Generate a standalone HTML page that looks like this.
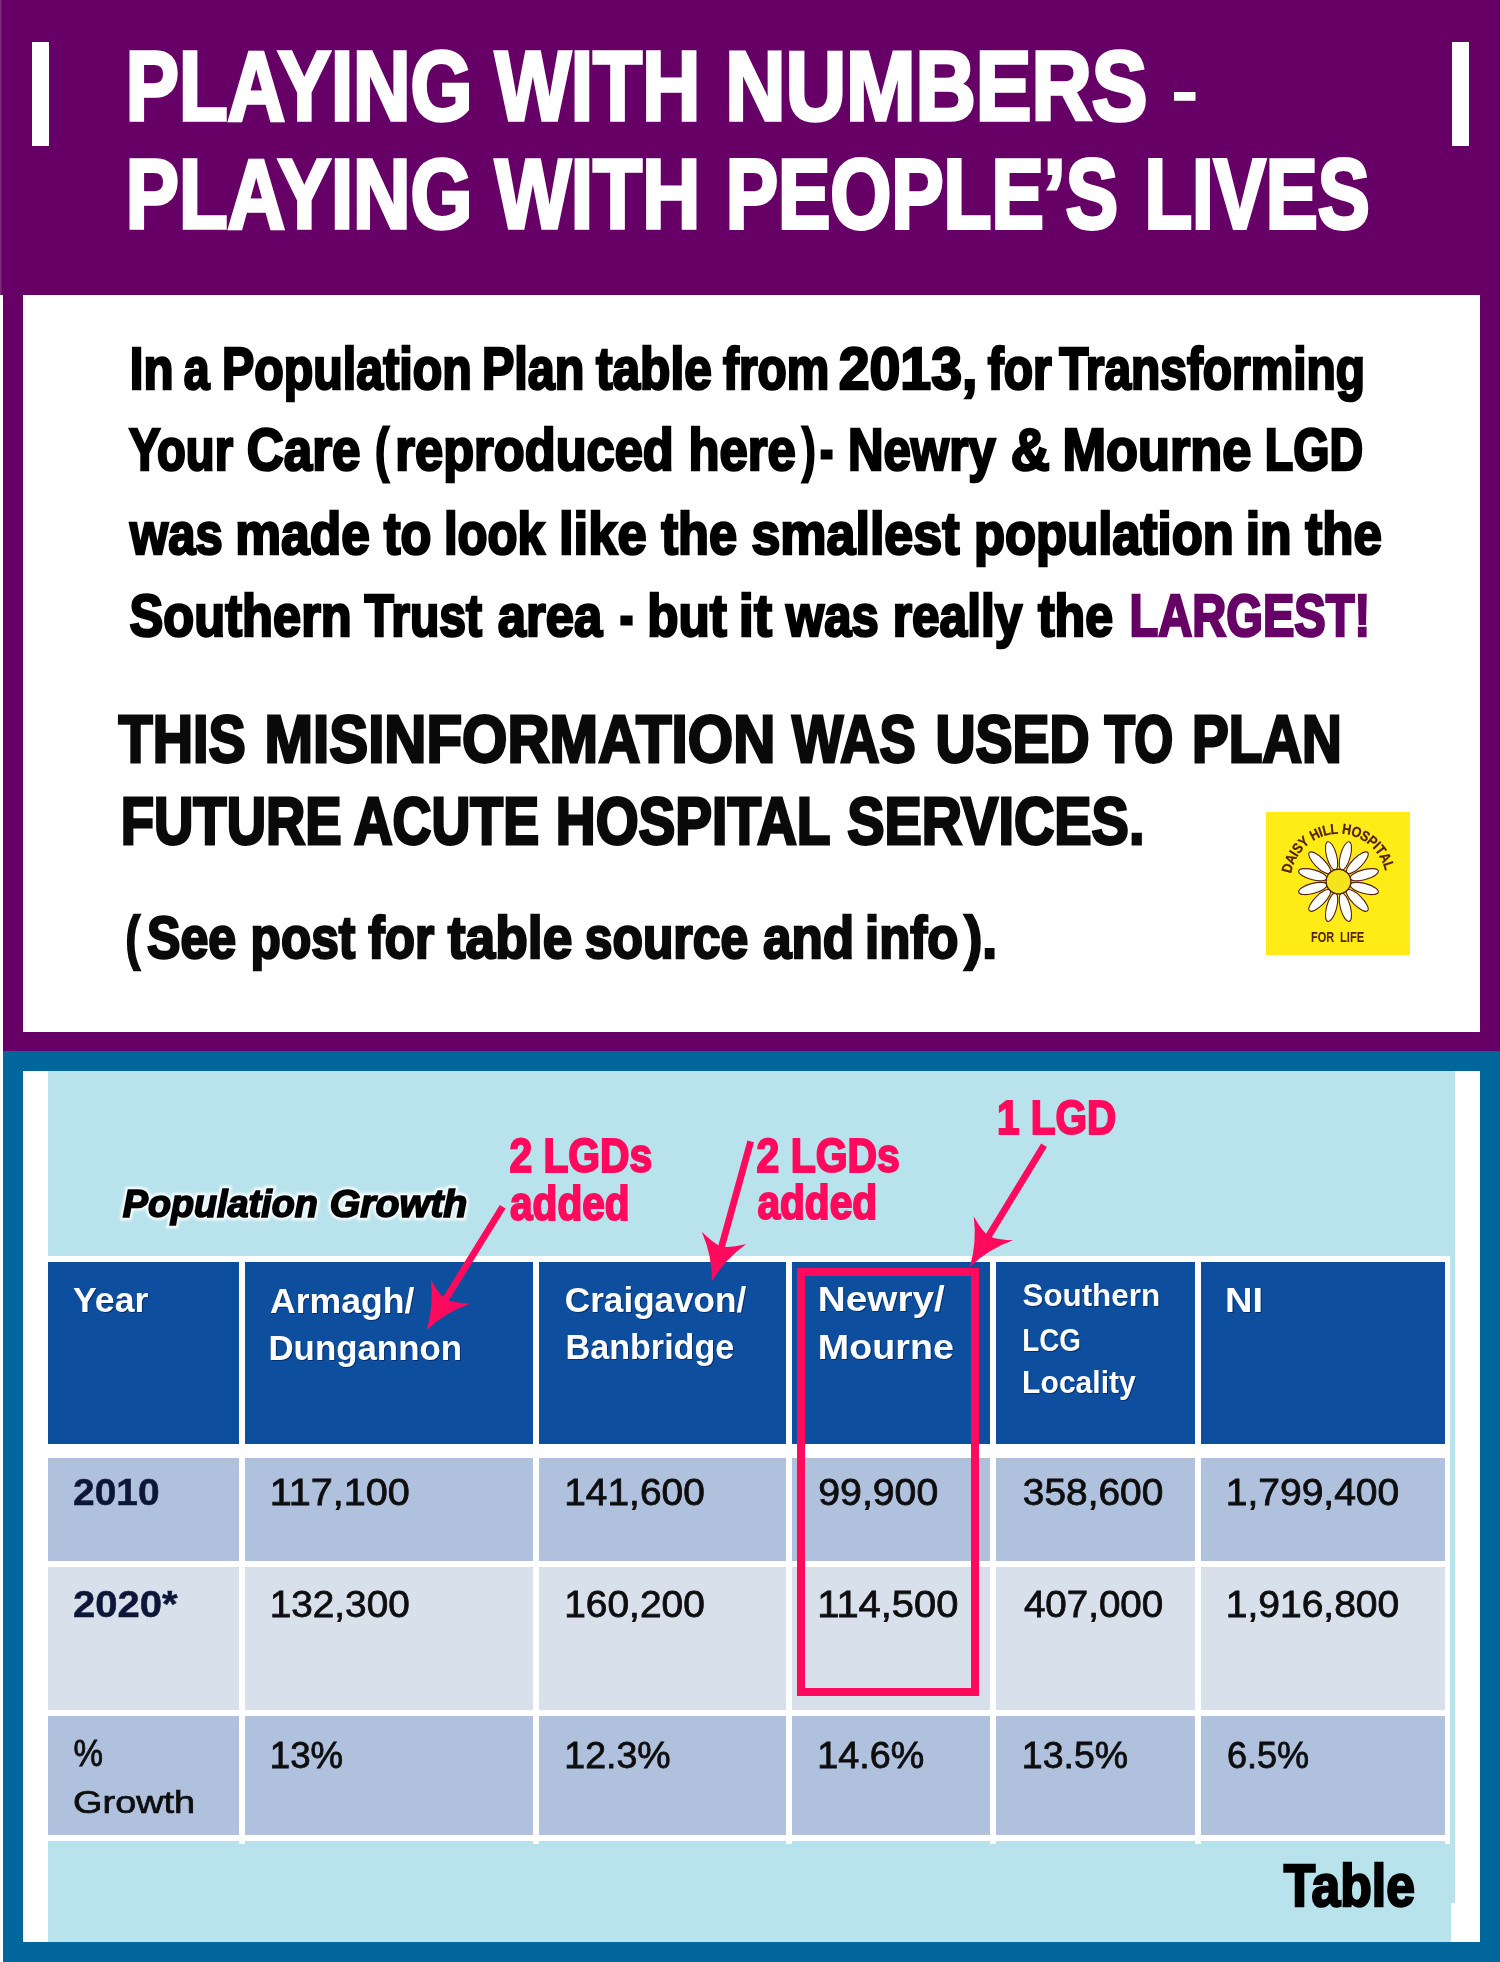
<!DOCTYPE html>
<html><head><meta charset="utf-8"><title>Playing with numbers</title>
<style>
html,body{margin:0;padding:0;background:#fff}
body{width:1500px;height:1962px;overflow:hidden;font-family:"Liberation Sans",sans-serif}
svg{display:block;font-family:"Liberation Sans",sans-serif}
text{white-space:pre}
</style></head><body>
<svg width="1500" height="1962" viewBox="0 0 1500 1962">
<defs>
<filter id="soft" x="-5%" y="-5%" width="110%" height="110%"><feGaussianBlur stdDeviation="0.7"/></filter>
<filter id="soft2" x="-5%" y="-5%" width="110%" height="110%"><feGaussianBlur stdDeviation="0.5"/></filter>
</defs>
<rect width="1500" height="1962" fill="#fff"/>
<!-- purple header and frame -->
<rect x="0" y="0" width="1500" height="295" fill="#660066"/>
<rect x="0" y="0" width="1.5" height="295" fill="#7d2a7d"/>
<rect x="3" y="295" width="1497" height="756" fill="#660066"/>
<rect x="23" y="295" width="1457" height="737" fill="#fff"/>
<rect x="32" y="42" width="17" height="104" fill="#fff"/>
<rect x="1452" y="42" width="17" height="104" fill="#fff"/>
<rect x="1174" y="92" width="21.5" height="8.8" fill="#fff"/>
<!-- blue frame -->
<rect x="3" y="1051" width="1497" height="911" fill="#00669B"/>
<rect x="23" y="1071" width="1457" height="871" fill="#fff"/>
<rect x="48" y="1071" width="1407" height="832" fill="#B9E3EC"/>
<rect x="48" y="1900" width="1403" height="42" fill="#B9E3EC"/>
<!-- table -->
<g filter="url(#soft)">
<rect x="48" y="1256" width="1402" height="585" fill="#fff"/>
<path d="M239 1835h6v9h-6zM533 1835h6v9h-6zM786 1835h6v9h-6zM990 1835h6v9h-6zM1195 1835h6v9h-6zM1445 1835h5v9h-5z" fill="#fff"/>
<rect x="48" y="1262" width="191" height="182" fill="#0F4F9E"/>
<rect x="245" y="1262" width="288" height="182" fill="#0F4F9E"/>
<rect x="539" y="1262" width="247" height="182" fill="#0F4F9E"/>
<rect x="792" y="1262" width="198" height="182" fill="#0F4F9E"/>
<rect x="996" y="1262" width="199" height="182" fill="#0F4F9E"/>
<rect x="1201" y="1262" width="244" height="182" fill="#0F4F9E"/>
<rect x="48" y="1458" width="191" height="103" fill="#B0C1DD"/>
<rect x="245" y="1458" width="288" height="103" fill="#B0C1DD"/>
<rect x="539" y="1458" width="247" height="103" fill="#B0C1DD"/>
<rect x="792" y="1458" width="198" height="103" fill="#B0C1DD"/>
<rect x="996" y="1458" width="199" height="103" fill="#B0C1DD"/>
<rect x="1201" y="1458" width="244" height="103" fill="#B0C1DD"/>
<rect x="48" y="1567" width="191" height="143" fill="#D8E0EC"/>
<rect x="245" y="1567" width="288" height="143" fill="#D8E0EC"/>
<rect x="539" y="1567" width="247" height="143" fill="#D8E0EC"/>
<rect x="792" y="1567" width="198" height="143" fill="#D8E0EC"/>
<rect x="996" y="1567" width="199" height="143" fill="#D8E0EC"/>
<rect x="1201" y="1567" width="244" height="143" fill="#D8E0EC"/>
<rect x="48" y="1716" width="191" height="119" fill="#B0C1DD"/>
<rect x="245" y="1716" width="288" height="119" fill="#B0C1DD"/>
<rect x="539" y="1716" width="247" height="119" fill="#B0C1DD"/>
<rect x="792" y="1716" width="198" height="119" fill="#B0C1DD"/>
<rect x="996" y="1716" width="199" height="119" fill="#B0C1DD"/>
<rect x="1201" y="1716" width="244" height="119" fill="#B0C1DD"/>
<rect x="1450" y="1256" width="5" height="590" fill="#B9E3EC"/>
</g>
<g filter="url(#soft2)">
<g style="filter:blur(1.3px)" opacity="1"><text transform="translate(122.75 1217.15) scale(0.9878 1)" font-size="38.23" fill="#f4fbfd" style="font-weight:bold;font-style:italic;vector-effect:non-scaling-stroke;stroke:#f4fbfd;stroke-width:6.5">Population</text>
<text transform="translate(329.72 1217.15) scale(1.0281 1)" font-size="38.23" fill="#f4fbfd" style="font-weight:bold;font-style:italic;vector-effect:non-scaling-stroke;stroke:#f4fbfd;stroke-width:6.5">Growth</text></g>
<text transform="translate(122.75 1217.15) scale(0.9878 1)" font-size="38.23" fill="#000" style="font-weight:bold;font-style:italic;vector-effect:non-scaling-stroke;stroke:#000;stroke-width:1.70">Population</text>
<text transform="translate(329.72 1217.15) scale(1.0281 1)" font-size="38.23" fill="#000" style="font-weight:bold;font-style:italic;vector-effect:non-scaling-stroke;stroke:#000;stroke-width:1.70">Growth</text>
<g style="filter:drop-shadow(1px 1.5px 0.6px rgba(0,20,70,.55))"><text transform="translate(73.00 1312.00) scale(1.0437 1)" font-size="34.16" fill="#fff" style="font-weight:bold">Year</text>
<text transform="translate(270.00 1312.50) scale(1.0432 1)" font-size="34.16" fill="#fff" style="font-weight:bold">Armagh/</text>
<text transform="translate(268.46 1360.00) scale(1.0201 1)" font-size="34.16" fill="#fff" style="font-weight:bold">Dungannon</text>
<text transform="translate(564.87 1312.00) scale(1.0276 1)" font-size="34.16" fill="#fff" style="font-weight:bold">Craigavon/</text>
<text transform="translate(565.50 1359.20) scale(0.9998 1)" font-size="34.16" fill="#fff" style="font-weight:bold">Banbridge</text>
<text transform="translate(817.73 1310.70) scale(1.1342 1)" font-size="34.16" fill="#fff" style="font-weight:bold">Newry/</text>
<text transform="translate(817.79 1358.70) scale(1.1040 1)" font-size="34.16" fill="#fff" style="font-weight:bold">Mourne</text>
<text transform="translate(1022.50 1305.90) scale(0.9800 1)" font-size="31.98" fill="#fff" style="font-weight:bold">Southern</text>
<text transform="translate(1022.26 1351.20) scale(0.8693 1)" font-size="31.98" fill="#fff" style="font-weight:bold">LCG</text>
<text transform="translate(1022.12 1393.30) scale(0.9410 1)" font-size="31.98" fill="#fff" style="font-weight:bold">Locality</text>
<text transform="translate(1225.07 1312.00) scale(1.1156 1)" font-size="34.16" fill="#fff" style="font-weight:bold">NI</text></g>
<text transform="translate(73.08 1504.75) scale(1.0654 1)" font-size="36.48" fill="#0b1838" style="font-weight:bold;vector-effect:non-scaling-stroke;stroke:#0b1838;stroke-width:0.50">2010</text>
<text transform="translate(269.70 1504.60) scale(1.0977 1)" font-size="36.05" fill="#0c0c10" style="vector-effect:non-scaling-stroke;stroke:#0c0c10;stroke-width:0.80">117,100</text>
<text transform="translate(564.24 1504.60) scale(1.0786 1)" font-size="36.05" fill="#0c0c10" style="vector-effect:non-scaling-stroke;stroke:#0c0c10;stroke-width:0.80">141,600</text>
<text transform="translate(818.31 1504.60) scale(1.0881 1)" font-size="36.05" fill="#0c0c10" style="vector-effect:non-scaling-stroke;stroke:#0c0c10;stroke-width:0.80">99,900</text>
<text transform="translate(1022.82 1504.60) scale(1.0780 1)" font-size="36.05" fill="#0c0c10" style="vector-effect:non-scaling-stroke;stroke:#0c0c10;stroke-width:0.80">358,600</text>
<text transform="translate(1225.74 1504.60) scale(1.0823 1)" font-size="36.05" fill="#0c0c10" style="vector-effect:non-scaling-stroke;stroke:#0c0c10;stroke-width:0.80">1,799,400</text>
<text transform="translate(73.05 1616.75) scale(1.0975 1)" font-size="36.48" fill="#0b1838" style="font-weight:bold;vector-effect:non-scaling-stroke;stroke:#0b1838;stroke-width:0.50">2020*</text>
<text transform="translate(269.75 1616.60) scale(1.0746 1)" font-size="36.05" fill="#0c0c10" style="vector-effect:non-scaling-stroke;stroke:#0c0c10;stroke-width:0.80">132,300</text>
<text transform="translate(564.24 1616.60) scale(1.0786 1)" font-size="36.05" fill="#0c0c10" style="vector-effect:non-scaling-stroke;stroke:#0c0c10;stroke-width:0.80">160,200</text>
<text transform="translate(817.19 1616.60) scale(1.1058 1)" font-size="36.05" fill="#0c0c10" style="vector-effect:non-scaling-stroke;stroke:#0c0c10;stroke-width:0.80">114,500</text>
<text transform="translate(1023.90 1616.60) scale(1.0696 1)" font-size="36.05" fill="#0c0c10" style="vector-effect:non-scaling-stroke;stroke:#0c0c10;stroke-width:0.80">407,000</text>
<text transform="translate(1225.74 1616.60) scale(1.0823 1)" font-size="36.05" fill="#0c0c10" style="vector-effect:non-scaling-stroke;stroke:#0c0c10;stroke-width:0.80">1,916,800</text>
<text transform="translate(73.38 1766.00) scale(0.9200 1)" font-size="36.05" fill="#0c0c10" style="vector-effect:non-scaling-stroke;stroke:#0c0c10;stroke-width:0.80">%</text>
<text transform="translate(73.10 1813.10) scale(1.2009 1)" font-size="31.54" fill="#0c0c10" style="vector-effect:non-scaling-stroke;stroke:#0c0c10;stroke-width:0.80">Growth</text>
<text transform="translate(269.87 1768.10) scale(1.0162 1)" font-size="36.05" fill="#0c0c10" style="vector-effect:non-scaling-stroke;stroke:#0c0c10;stroke-width:0.80">13%</text>
<text transform="translate(564.32 1768.10) scale(1.0411 1)" font-size="36.05" fill="#0c0c10" style="vector-effect:non-scaling-stroke;stroke:#0c0c10;stroke-width:0.80">12.3%</text>
<text transform="translate(817.31 1768.10) scale(1.0461 1)" font-size="36.05" fill="#0c0c10" style="vector-effect:non-scaling-stroke;stroke:#0c0c10;stroke-width:0.80">14.6%</text>
<text transform="translate(1021.82 1768.10) scale(1.0411 1)" font-size="36.05" fill="#0c0c10" style="vector-effect:non-scaling-stroke;stroke:#0c0c10;stroke-width:0.80">13.5%</text>
<text transform="translate(1226.90 1768.10) scale(1.0014 1)" font-size="36.05" fill="#0c0c10" style="vector-effect:non-scaling-stroke;stroke:#0c0c10;stroke-width:0.80">6.5%</text>
</g>
<!-- pink annotations -->
<rect x="801" y="1272" width="174" height="420" fill="none" stroke="#FF0A5C" stroke-width="8"/>
<line x1="502.7" y1="1206.7" x2="444.8" y2="1300.5" stroke="#FF0A5C" stroke-width="6.8"/><path d="M426.7 1329.9 Q444.9 1312.6 469.9 1303.7 Q456.7 1303.2 448.8 1300.6 L443.0 1297.1 Q437.1 1291.1 430.8 1279.5 Q434.0 1305.8 426.7 1329.9Z" fill="#FF0A5C"/><line x1="750.7" y1="1141.3" x2="721.2" y2="1248.0" stroke="#FF0A5C" stroke-width="6.8"/><path d="M712.0 1281.3 Q724.7 1259.6 746.2 1244.1 Q733.3 1247.3 725.0 1247.0 L718.4 1245.2 Q711.2 1241.1 701.8 1231.8 Q712.3 1256.2 712.0 1281.3Z" fill="#FF0A5C"/><line x1="1044.0" y1="1145.3" x2="987.9" y2="1237.3" stroke="#FF0A5C" stroke-width="6.8"/><path d="M969.9 1266.7 Q988.1 1249.3 1013.0 1240.3 Q999.8 1239.8 991.8 1237.3 L986.0 1233.8 Q980.1 1227.8 973.7 1216.3 Q977.1 1242.6 969.9 1266.7Z" fill="#FF0A5C"/>
<text transform="translate(509.39 1172.35) scale(0.8589 1)" font-size="47.53" fill="#FF0A5C" style="font-weight:bold;vector-effect:non-scaling-stroke;stroke:#FF0A5C;stroke-width:1.90">2 LGDs</text>
<text transform="translate(509.99 1219.55) scale(0.8550 1)" font-size="47.53" fill="#FF0A5C" style="font-weight:bold;vector-effect:non-scaling-stroke;stroke:#FF0A5C;stroke-width:1.90">added</text>
<text transform="translate(756.59 1172.35) scale(0.8608 1)" font-size="47.53" fill="#FF0A5C" style="font-weight:bold;vector-effect:non-scaling-stroke;stroke:#FF0A5C;stroke-width:1.90">2 LGDs</text>
<text transform="translate(757.39 1219.05) scale(0.8558 1)" font-size="47.53" fill="#FF0A5C" style="font-weight:bold;vector-effect:non-scaling-stroke;stroke:#FF0A5C;stroke-width:1.90">added</text>
<text transform="translate(997.10 1133.75) scale(0.8510 1)" font-size="47.53" fill="#FF0A5C" style="font-weight:bold;vector-effect:non-scaling-stroke;stroke:#FF0A5C;stroke-width:1.90">1 LGD</text>
<!-- main text -->
<text transform="translate(125.87 120.30) scale(0.8044 1)" font-size="98.98" fill="#fff" style="font-weight:bold;vector-effect:non-scaling-stroke;stroke:#fff;stroke-width:3.40">PLAYING</text>
<text transform="translate(494.90 120.30) scale(0.8122 1)" font-size="98.98" fill="#fff" style="font-weight:bold;vector-effect:non-scaling-stroke;stroke:#fff;stroke-width:3.40">WITH</text>
<text transform="translate(725.34 120.30) scale(0.8438 1)" font-size="98.98" fill="#fff" style="font-weight:bold;vector-effect:non-scaling-stroke;stroke:#fff;stroke-width:3.40">NUMBERS</text>
<text transform="translate(125.87 227.50) scale(0.8044 1)" font-size="98.98" fill="#fff" style="font-weight:bold;vector-effect:non-scaling-stroke;stroke:#fff;stroke-width:3.40">PLAYING</text>
<text transform="translate(494.90 227.50) scale(0.8122 1)" font-size="98.98" fill="#fff" style="font-weight:bold;vector-effect:non-scaling-stroke;stroke:#fff;stroke-width:3.40">WITH</text>
<text transform="translate(725.64 227.50) scale(0.7926 1)" font-size="98.98" fill="#fff" style="font-weight:bold;vector-effect:non-scaling-stroke;stroke:#fff;stroke-width:3.40">PEOPLE’S</text>
<text transform="translate(1144.48 227.50) scale(0.7874 1)" font-size="98.98" fill="#fff" style="font-weight:bold;vector-effect:non-scaling-stroke;stroke:#fff;stroke-width:3.40">LIVES</text>
<text transform="translate(129.80 388.80) scale(0.8247 1)" font-size="59.74" fill="#000" style="font-weight:bold;vector-effect:non-scaling-stroke;stroke:#000;stroke-width:2.40">In</text>
<text transform="translate(183.72 388.80) scale(0.7758 1)" font-size="59.74" fill="#000" style="font-weight:bold;vector-effect:non-scaling-stroke;stroke:#000;stroke-width:2.40">a</text>
<text transform="translate(222.06 388.80) scale(0.8089 1)" font-size="59.74" fill="#000" style="font-weight:bold;vector-effect:non-scaling-stroke;stroke:#000;stroke-width:2.40">Population</text>
<text transform="translate(481.95 388.80) scale(0.8117 1)" font-size="59.74" fill="#000" style="font-weight:bold;vector-effect:non-scaling-stroke;stroke:#000;stroke-width:2.40">Plan</text>
<text transform="translate(595.90 388.80) scale(0.8316 1)" font-size="59.74" fill="#000" style="font-weight:bold;vector-effect:non-scaling-stroke;stroke:#000;stroke-width:2.40">table</text>
<text transform="translate(723.10 388.80) scale(0.8001 1)" font-size="59.74" fill="#000" style="font-weight:bold;vector-effect:non-scaling-stroke;stroke:#000;stroke-width:2.40">from</text>
<text transform="translate(838.64 388.80) scale(0.9287 1)" font-size="59.74" fill="#000" style="font-weight:bold;vector-effect:non-scaling-stroke;stroke:#000;stroke-width:2.40">2013,</text>
<text transform="translate(987.70 388.80) scale(0.8039 1)" font-size="59.74" fill="#000" style="font-weight:bold;vector-effect:non-scaling-stroke;stroke:#000;stroke-width:2.40">for</text>
<text transform="translate(1059.20 388.80) scale(0.8016 1)" font-size="59.74" fill="#000" style="font-weight:bold;vector-effect:non-scaling-stroke;stroke:#000;stroke-width:2.40">Transforming</text>
<text transform="translate(129.11 470.10) scale(0.7894 1)" font-size="59.74" fill="#000" style="font-weight:bold;vector-effect:non-scaling-stroke;stroke:#000;stroke-width:2.40">Your</text>
<text transform="translate(246.79 470.10) scale(0.8566 1)" font-size="59.74" fill="#000" style="font-weight:bold;vector-effect:non-scaling-stroke;stroke:#000;stroke-width:2.40">Care</text>
<text transform="translate(375.13 470.10) scale(0.6833 1)" font-size="59.74" fill="#000" style="font-weight:bold;vector-effect:non-scaling-stroke;stroke:#000;stroke-width:2.40">(</text>
<text transform="translate(395.36 470.10) scale(0.8474 1)" font-size="59.74" fill="#000" style="font-weight:bold;vector-effect:non-scaling-stroke;stroke:#000;stroke-width:2.40">reproduced</text>
<text transform="translate(688.50 470.10) scale(0.8509 1)" font-size="59.74" fill="#000" style="font-weight:bold;vector-effect:non-scaling-stroke;stroke:#000;stroke-width:2.40">here</text>
<text transform="translate(802.20 470.10) scale(0.6647 1)" font-size="59.74" fill="#000" style="font-weight:bold;vector-effect:non-scaling-stroke;stroke:#000;stroke-width:2.40">)</text>
<text transform="translate(819.88 470.10) scale(0.6625 1)" font-size="59.74" fill="#000" style="font-weight:bold;vector-effect:non-scaling-stroke;stroke:#000;stroke-width:2.40">-</text>
<text transform="translate(847.90 470.10) scale(0.8244 1)" font-size="59.74" fill="#000" style="font-weight:bold;vector-effect:non-scaling-stroke;stroke:#000;stroke-width:2.40">Newry</text>
<text transform="translate(1010.68 470.10) scale(0.9075 1)" font-size="59.74" fill="#000" style="font-weight:bold;vector-effect:non-scaling-stroke;stroke:#000;stroke-width:2.40">&amp;</text>
<text transform="translate(1062.39 470.10) scale(0.8763 1)" font-size="59.74" fill="#000" style="font-weight:bold;vector-effect:non-scaling-stroke;stroke:#000;stroke-width:2.40">Mourne</text>
<text transform="translate(1264.78 470.10) scale(0.7805 1)" font-size="59.74" fill="#000" style="font-weight:bold;vector-effect:non-scaling-stroke;stroke:#000;stroke-width:2.40">LGD</text>
<text transform="translate(130.02 553.60) scale(0.8203 1)" font-size="59.74" fill="#000" style="font-weight:bold;vector-effect:non-scaling-stroke;stroke:#000;stroke-width:2.40">was</text>
<text transform="translate(235.31 553.60) scale(0.8624 1)" font-size="59.74" fill="#000" style="font-weight:bold;vector-effect:non-scaling-stroke;stroke:#000;stroke-width:2.40">made</text>
<text transform="translate(383.70 553.60) scale(0.8454 1)" font-size="59.74" fill="#000" style="font-weight:bold;vector-effect:non-scaling-stroke;stroke:#000;stroke-width:2.40">to</text>
<text transform="translate(443.91 553.60) scale(0.8223 1)" font-size="59.74" fill="#000" style="font-weight:bold;vector-effect:non-scaling-stroke;stroke:#000;stroke-width:2.40">look</text>
<text transform="translate(558.98 553.60) scale(0.8793 1)" font-size="59.74" fill="#000" style="font-weight:bold;vector-effect:non-scaling-stroke;stroke:#000;stroke-width:2.40">like</text>
<text transform="translate(661.20 553.60) scale(0.8476 1)" font-size="59.74" fill="#000" style="font-weight:bold;vector-effect:non-scaling-stroke;stroke:#000;stroke-width:2.40">the</text>
<text transform="translate(751.46 553.60) scale(0.8700 1)" font-size="59.74" fill="#000" style="font-weight:bold;vector-effect:non-scaling-stroke;stroke:#000;stroke-width:2.40">smallest</text>
<text transform="translate(973.95 553.60) scale(0.8514 1)" font-size="59.74" fill="#000" style="font-weight:bold;vector-effect:non-scaling-stroke;stroke:#000;stroke-width:2.40">population</text>
<text transform="translate(1245.73 553.60) scale(0.8664 1)" font-size="59.74" fill="#000" style="font-weight:bold;vector-effect:non-scaling-stroke;stroke:#000;stroke-width:2.40">in</text>
<text transform="translate(1305.20 553.60) scale(0.8555 1)" font-size="59.74" fill="#000" style="font-weight:bold;vector-effect:non-scaling-stroke;stroke:#000;stroke-width:2.40">the</text>
<text transform="translate(129.55 636.00) scale(0.8478 1)" font-size="59.74" fill="#000" style="font-weight:bold;vector-effect:non-scaling-stroke;stroke:#000;stroke-width:2.40">Southern</text>
<text transform="translate(364.50 636.00) scale(0.8048 1)" font-size="59.74" fill="#000" style="font-weight:bold;vector-effect:non-scaling-stroke;stroke:#000;stroke-width:2.40">Trust</text>
<text transform="translate(497.65 636.00) scale(0.8503 1)" font-size="59.74" fill="#000" style="font-weight:bold;vector-effect:non-scaling-stroke;stroke:#000;stroke-width:2.40">area</text>
<text transform="translate(619.84 636.00) scale(0.6812 1)" font-size="59.74" fill="#000" style="font-weight:bold;vector-effect:non-scaling-stroke;stroke:#000;stroke-width:2.40">-</text>
<text transform="translate(647.13 636.00) scale(0.8571 1)" font-size="59.74" fill="#000" style="font-weight:bold;vector-effect:non-scaling-stroke;stroke:#000;stroke-width:2.40">but</text>
<text transform="translate(738.87 636.00) scale(0.9082 1)" font-size="59.74" fill="#000" style="font-weight:bold;vector-effect:non-scaling-stroke;stroke:#000;stroke-width:2.40">it</text>
<text transform="translate(786.02 636.00) scale(0.8203 1)" font-size="59.74" fill="#000" style="font-weight:bold;vector-effect:non-scaling-stroke;stroke:#000;stroke-width:2.40">was</text>
<text transform="translate(892.71 636.00) scale(0.8302 1)" font-size="59.74" fill="#000" style="font-weight:bold;vector-effect:non-scaling-stroke;stroke:#000;stroke-width:2.40">really</text>
<text transform="translate(1037.90 636.00) scale(0.8386 1)" font-size="59.74" fill="#000" style="font-weight:bold;vector-effect:non-scaling-stroke;stroke:#000;stroke-width:2.40">the</text>
<text transform="translate(1129.55 636.00) scale(0.7883 1)" font-size="59.74" fill="#660066" style="font-weight:bold;vector-effect:non-scaling-stroke;stroke:#660066;stroke-width:2.40">LARGEST!</text>
<text transform="translate(118.60 762.00) scale(0.8458 1)" font-size="65.99" fill="#0a0a0a" style="font-weight:bold;vector-effect:non-scaling-stroke;stroke:#0a0a0a;stroke-width:2.60">THIS</text>
<text transform="translate(264.46 762.00) scale(0.8840 1)" font-size="65.99" fill="#0a0a0a" style="font-weight:bold;vector-effect:non-scaling-stroke;stroke:#0a0a0a;stroke-width:2.60">MISINFORMATION</text>
<text transform="translate(792.00 762.00) scale(0.8229 1)" font-size="65.99" fill="#0a0a0a" style="font-weight:bold;vector-effect:non-scaling-stroke;stroke:#0a0a0a;stroke-width:2.60">WAS</text>
<text transform="translate(935.48 762.00) scale(0.8410 1)" font-size="65.99" fill="#0a0a0a" style="font-weight:bold;vector-effect:non-scaling-stroke;stroke:#0a0a0a;stroke-width:2.60">USED</text>
<text transform="translate(1104.60 762.00) scale(0.7582 1)" font-size="65.99" fill="#0a0a0a" style="font-weight:bold;vector-effect:non-scaling-stroke;stroke:#0a0a0a;stroke-width:2.60">TO</text>
<text transform="translate(1191.96 762.00) scale(0.8340 1)" font-size="65.99" fill="#0a0a0a" style="font-weight:bold;vector-effect:non-scaling-stroke;stroke:#0a0a0a;stroke-width:2.60">PLAN</text>
<text transform="translate(120.70 844.20) scale(0.8260 1)" font-size="65.99" fill="#0a0a0a" style="font-weight:bold;vector-effect:non-scaling-stroke;stroke:#0a0a0a;stroke-width:2.60">FUTURE</text>
<text transform="translate(353.78 844.20) scale(0.8153 1)" font-size="65.99" fill="#0a0a0a" style="font-weight:bold;vector-effect:non-scaling-stroke;stroke:#0a0a0a;stroke-width:2.60">ACUTE</text>
<text transform="translate(555.86 844.20) scale(0.8357 1)" font-size="65.99" fill="#0a0a0a" style="font-weight:bold;vector-effect:non-scaling-stroke;stroke:#0a0a0a;stroke-width:2.60">HOSPITAL</text>
<text transform="translate(847.15 844.20) scale(0.8474 1)" font-size="65.99" fill="#0a0a0a" style="font-weight:bold;vector-effect:non-scaling-stroke;stroke:#0a0a0a;stroke-width:2.60">SERVICES.</text>
<text transform="translate(125.71 958.15) scale(0.7222 1)" font-size="58.58" fill="#0a0a0a" style="font-weight:bold;vector-effect:non-scaling-stroke;stroke:#0a0a0a;stroke-width:2.30">(</text>
<text transform="translate(146.99 958.15) scale(0.8560 1)" font-size="58.58" fill="#0a0a0a" style="font-weight:bold;vector-effect:non-scaling-stroke;stroke:#0a0a0a;stroke-width:2.30">See</text>
<text transform="translate(250.61 958.15) scale(0.8467 1)" font-size="58.58" fill="#0a0a0a" style="font-weight:bold;vector-effect:non-scaling-stroke;stroke:#0a0a0a;stroke-width:2.30">post</text>
<text transform="translate(368.31 958.15) scale(0.8443 1)" font-size="58.58" fill="#0a0a0a" style="font-weight:bold;vector-effect:non-scaling-stroke;stroke:#0a0a0a;stroke-width:2.30">for</text>
<text transform="translate(447.85 958.15) scale(0.9103 1)" font-size="58.58" fill="#0a0a0a" style="font-weight:bold;vector-effect:non-scaling-stroke;stroke:#0a0a0a;stroke-width:2.30">table</text>
<text transform="translate(584.75 958.15) scale(0.8510 1)" font-size="58.58" fill="#0a0a0a" style="font-weight:bold;vector-effect:non-scaling-stroke;stroke:#0a0a0a;stroke-width:2.30">source</text>
<text transform="translate(762.97 958.15) scale(0.8758 1)" font-size="58.58" fill="#0a0a0a" style="font-weight:bold;vector-effect:non-scaling-stroke;stroke:#0a0a0a;stroke-width:2.30">and</text>
<text transform="translate(864.97 958.15) scale(0.8706 1)" font-size="58.58" fill="#0a0a0a" style="font-weight:bold;vector-effect:non-scaling-stroke;stroke:#0a0a0a;stroke-width:2.30">info</text>
<text transform="translate(964.45 958.15) scale(0.9138 1)" font-size="58.58" fill="#0a0a0a" style="font-weight:bold;vector-effect:non-scaling-stroke;stroke:#0a0a0a;stroke-width:2.30">).</text>
<text transform="translate(1283.85 1906.35) scale(0.8838 1)" font-size="58.43" fill="#000" style="font-weight:bold;vector-effect:non-scaling-stroke;stroke:#000;stroke-width:2.30">Table</text>
<!-- logo -->
<g filter="url(#soft2)"><rect x="1266" y="812" width="144" height="143" fill="#FFEC17"/><g fill="#fff" stroke="#55200f" stroke-width="1.1"><ellipse cx="1338.5" cy="855.0" rx="5" ry="14.6" transform="rotate(15 1338.5 881.6)"/><ellipse cx="1338.5" cy="855.0" rx="5" ry="14.6" transform="rotate(45 1338.5 881.6)"/><ellipse cx="1338.5" cy="855.0" rx="5" ry="14.6" transform="rotate(75 1338.5 881.6)"/><ellipse cx="1338.5" cy="855.0" rx="5" ry="14.6" transform="rotate(105 1338.5 881.6)"/><ellipse cx="1338.5" cy="855.0" rx="5" ry="14.6" transform="rotate(135 1338.5 881.6)"/><ellipse cx="1338.5" cy="855.0" rx="5" ry="14.6" transform="rotate(165 1338.5 881.6)"/><ellipse cx="1338.5" cy="855.0" rx="5" ry="14.6" transform="rotate(195 1338.5 881.6)"/><ellipse cx="1338.5" cy="855.0" rx="5" ry="14.6" transform="rotate(225 1338.5 881.6)"/><ellipse cx="1338.5" cy="855.0" rx="5" ry="14.6" transform="rotate(255 1338.5 881.6)"/><ellipse cx="1338.5" cy="855.0" rx="5" ry="14.6" transform="rotate(285 1338.5 881.6)"/><ellipse cx="1338.5" cy="855.0" rx="5" ry="14.6" transform="rotate(315 1338.5 881.6)"/><ellipse cx="1338.5" cy="855.0" rx="5" ry="14.6" transform="rotate(345 1338.5 881.6)"/></g><circle cx="1338.5" cy="881.6" r="12.4" fill="#F4E41C" stroke="#55200f" stroke-width="1.4"/><g font-size="14.5" style="font-weight:bold" fill="#55200f" stroke="#55200f" stroke-width="0.25"><text transform="translate(1338.5 881.6) rotate(-75.28) translate(0 -47.9) scale(0.867 1)" text-anchor="middle">D</text><text transform="translate(1338.5 881.6) rotate(-64.83) translate(0 -47.9) scale(0.867 1)" text-anchor="middle">A</text><text transform="translate(1338.5 881.6) rotate(-57.60) translate(0 -47.9) scale(0.867 1)" text-anchor="middle">I</text><text transform="translate(1338.5 881.6) rotate(-50.77) translate(0 -47.9) scale(0.867 1)" text-anchor="middle">S</text><text transform="translate(1338.5 881.6) rotate(-41.12) translate(0 -47.9) scale(0.867 1)" text-anchor="middle">Y</text><text transform="translate(1338.5 881.6) rotate(-27.05) translate(0 -47.9) scale(0.867 1)" text-anchor="middle">H</text><text transform="translate(1338.5 881.6) rotate(-19.82) translate(0 -47.9) scale(0.867 1)" text-anchor="middle">I</text><text transform="translate(1338.5 881.6) rotate(-13.40) translate(0 -47.9) scale(0.867 1)" text-anchor="middle">L</text><text transform="translate(1338.5 881.6) rotate(-4.56) translate(0 -47.9) scale(0.867 1)" text-anchor="middle">L</text><text transform="translate(1338.5 881.6) rotate(9.10) translate(0 -47.9) scale(0.867 1)" text-anchor="middle">H</text><text transform="translate(1338.5 881.6) rotate(19.95) translate(0 -47.9) scale(0.867 1)" text-anchor="middle">O</text><text transform="translate(1338.5 881.6) rotate(30.39) translate(0 -47.9) scale(0.867 1)" text-anchor="middle">S</text><text transform="translate(1338.5 881.6) rotate(40.04) translate(0 -47.9) scale(0.867 1)" text-anchor="middle">P</text><text transform="translate(1338.5 881.6) rotate(46.88) translate(0 -47.9) scale(0.867 1)" text-anchor="middle">I</text><text transform="translate(1338.5 881.6) rotate(53.30) translate(0 -47.9) scale(0.867 1)" text-anchor="middle">T</text><text transform="translate(1338.5 881.6) rotate(62.94) translate(0 -47.9) scale(0.867 1)" text-anchor="middle">A</text><text transform="translate(1338.5 881.6) rotate(72.58) translate(0 -47.9) scale(0.867 1)" text-anchor="middle">L</text></g><text transform="translate(1311.10 941.60) scale(0.7490 1)" font-size="14.68" fill="#55200f" style="font-weight:bold">FOR</text>
<text transform="translate(1339.90 941.60) scale(0.7656 1)" font-size="14.68" fill="#55200f" style="font-weight:bold">LIFE</text></g>
</svg>
</body></html>
